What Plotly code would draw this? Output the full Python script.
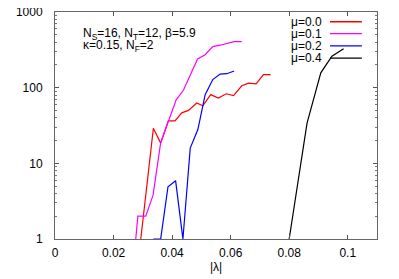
import plotly.graph_objects as go

# ---- data ----
lam_mu00 = [0.0293, 0.0336, 0.0361, 0.0387, 0.0410, 0.0433, 0.0456, 0.0484, 0.0505,
            0.0532, 0.0558, 0.0585, 0.0610, 0.0638, 0.0661, 0.0687, 0.0712, 0.0737]
n_mu00 = [1, 29, 18.5, 36.5, 36.5, 46.5, 50, 62.6, 57.5, 81, 73, 83, 78.5, 106, 115, 112, 149, 149]

lam_mu01 = [0.0257, 0.0283, 0.0310, 0.0335, 0.0361, 0.0387, 0.0414, 0.0439, 0.0464,
            0.0487, 0.0513, 0.0539, 0.0564, 0.0587, 0.0612, 0.0638]
n_mu01 = [0.16, 2, 2, 3.8, 18.7, 36, 69, 93, 156, 240, 273, 349, 364, 380, 405, 405]

lam_mu02 = [0.0336, 0.0361, 0.0386, 0.0412, 0.0437, 0.0462, 0.0488, 0.0513, 0.0539,
            0.0564, 0.0587, 0.0612]
n_mu02 = [1, 1, 4.9, 5.9, 1, 15.9, 28, 80.7, 128, 151, 153, 166]

lam_mu04 = [0.0800, 0.0861, 0.0908, 0.0946, 0.0986]
n_mu04 = [1, 34, 157, 260, 326]

series_names = ["μ=0.0", "μ=0.1", "μ=0.2", "μ=0.4"]
series_colors = ["#ff0000", "#ff00ff", "#0000ff", "#000000"]
series_x = [lam_mu00, lam_mu01, lam_mu02, lam_mu04]
series_y = [n_mu00, n_mu01, n_mu02, n_mu04]

x_ticks = [0, 0.02, 0.04, 0.06, 0.08, 0.1]
x_ticklabels = ["0", "0.02", "0.04", "0.06", "0.08", "0.1"]
y_ticks = [1, 10, 100, 1000]
y_ticklabels = ["1", "10", "100", "1000"]

FONT = "Liberation Sans, Arial, Helvetica, sans-serif"

fig = go.Figure()
for name, col, xs, ys in zip(series_names, series_colors, series_x, series_y):
    fig.add_trace(go.Scatter(x=xs, y=ys, mode="lines", name=name,
                             line=dict(color=col, width=1.2), showlegend=False))

# manual gnuplot-style legend: text on the left, line sample on the right
leg_y = [0.957, 0.905, 0.851, 0.797]
for name, col, yy in zip(series_names, series_colors, leg_y):
    fig.add_annotation(xref="paper", yref="paper", x=0.831, y=yy, text=name,
                       showarrow=False, xanchor="right", yanchor="middle",
                       borderpad=0,
                       font=dict(family=FONT, size=12, color="black"))
    fig.add_shape(type="line", xref="paper", yref="paper", x0=0.854, x1=0.953,
                  y0=yy, y1=yy, line=dict(color=col, width=1.3))

fig.add_annotation(xref="paper", yref="paper", x=0.085, y=0.903,
                   text="N<sub>S</sub>=16, N<sub>T</sub>=12, β=5.9",
                   showarrow=False, xanchor="left", yanchor="middle", borderpad=0,
                   font=dict(family=FONT, size=12, color="black"))
fig.add_annotation(xref="paper", yref="paper", x=0.085, y=0.850,
                   text="κ=0.15, N<sub>F</sub>=2",
                   showarrow=False, xanchor="left", yanchor="middle", borderpad=0,
                   font=dict(family=FONT, size=12, color="black"))

# the page body has an 8px margin, so the figure is 8px smaller than the window
fig.update_layout(
    width=391, height=271,
    margin=dict(l=47, r=22, t=4, b=40),
    paper_bgcolor="white", plot_bgcolor="white",
    font=dict(family=FONT, size=12, color="black"),
    xaxis=dict(range=[0, 0.11], tickvals=x_ticks, ticktext=x_ticklabels,
               automargin=False, ticklabelstandoff=3, ticklabeloverflow="allow",
               ticks="inside", ticklen=4, tickcolor="#555", showgrid=False,
               zeroline=False, showline=True, linecolor="#666", linewidth=1,
               mirror="allticks",
               title=dict(text="|λ|", standoff=1, font=dict(size=12))),
    yaxis=dict(type="log", range=[0, 3], tickvals=y_ticks, ticktext=y_ticklabels,
               automargin=False, ticklabelstandoff=9, ticklabeloverflow="allow",
               ticks="inside", ticklen=4, tickcolor="#555", showgrid=False,
               zeroline=False, showline=True, linecolor="#666", linewidth=1,
               mirror="allticks",
               minor=dict(ticks="inside", ticklen=2, tickcolor="#777", dtick="D1",
                          showgrid=False)),
)

fig.write_html("out.html")
